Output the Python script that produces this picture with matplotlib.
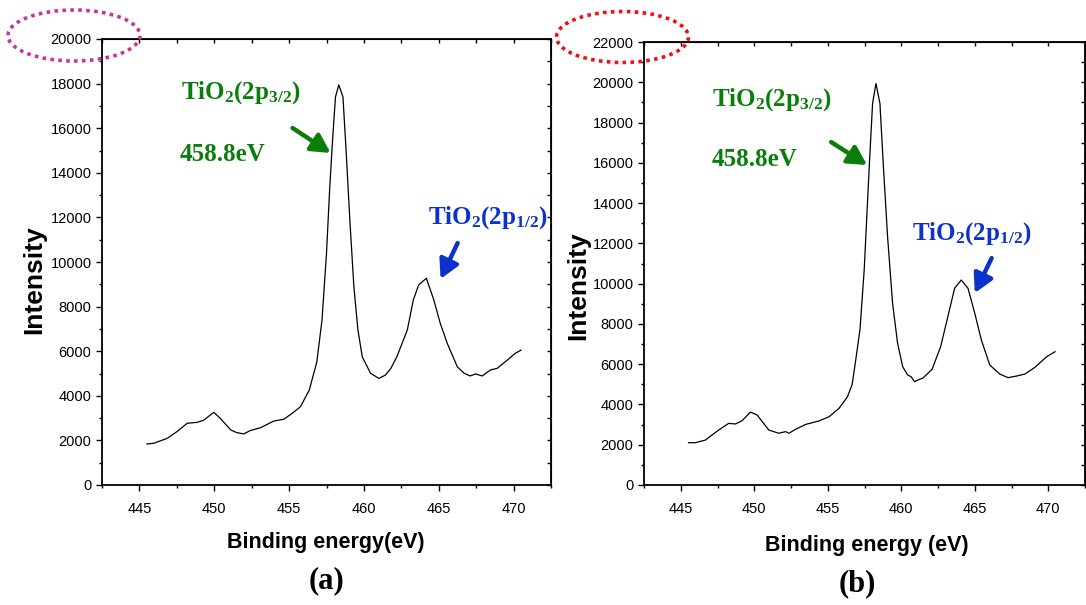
import numpy as np
import matplotlib
matplotlib.use('Agg')
import matplotlib.pyplot as plt
from matplotlib import font_manager
from matplotlib.patches import Ellipse
from matplotlib.ticker import MultipleLocator

# XPS Ti 2p spectra
be_a = [445.5, 445.95, 446.85, 447.5, 448.2, 448.86, 449.3, 449.97, 450.4, 451.1,
        451.5, 451.97, 452.4, 453.1, 453.98, 454.65, 455.2, 455.76, 456.35, 456.65,
        456.85, 457.2, 457.5, 457.72, 457.92, 458.1, 458.32, 458.6, 458.82, 459.06,
        459.33, 459.6, 459.89, 460.44, 461.0, 461.44, 461.8, 462.2, 462.9, 463.3,
        463.66, 464.17, 464.67, 465.1, 465.57, 466.24, 466.7, 467.1, 467.46, 467.9,
        468.46, 468.9, 469.58, 470.1, 470.5]
int_a = [1840, 1870, 2090, 2390, 2770, 2810, 2910, 3260, 2990, 2470,
         2350, 2290, 2440, 2570, 2870, 2950, 3210, 3510, 4260, 5010,
         5500, 7400, 10390, 13380, 15620, 17400, 17940, 17400, 14870, 11880,
         8890, 6950, 5750, 5010, 4780, 4930, 5230, 5750, 6950, 8300,
         8970, 9270, 8300, 7250, 6350, 5300, 5010, 4890, 4980, 4890,
         5160, 5230, 5600, 5900, 6050]

be_b = [445.53, 445.98, 446.67, 447.58, 448.26, 448.72, 449.17, 449.74, 450.19, 450.99,
        451.67, 452.13, 452.36, 452.8, 453.5, 454.4, 455.09, 455.77, 456.34, 456.66,
        456.87, 457.19, 457.48, 457.7, 457.87, 458.05, 458.28, 458.55, 458.8, 459.07,
        459.41, 459.75, 460.1, 460.44, 460.67, 460.9, 461.24, 461.46, 462.1, 462.68,
        463.17, 463.63, 464.08, 464.54, 465.0, 465.45, 466.02, 466.7, 467.27, 467.84,
        468.41, 469.09, 469.89, 470.46]
int_b = [2100, 2100, 2230, 2730, 3060, 3030, 3190, 3620, 3480, 2730,
         2570, 2650, 2570, 2760, 3010, 3180, 3390, 3810, 4380, 5000,
         6040, 7700, 10680, 13990, 16470, 18950, 19940, 18950, 15640, 12330,
         9020, 7040, 5870, 5460, 5380, 5130, 5250, 5300, 5750, 6870,
         8360, 9770, 10180, 9770, 8530, 7200, 5960, 5510, 5330, 5410,
         5510, 5840, 6370, 6620]

names = {f.name for f in font_manager.fontManager.ttflist}
narrow = 'Liberation Sans Narrow' if 'Liberation Sans Narrow' in names else 'Liberation Sans'

plt.rcParams['font.family'] = [narrow, 'DejaVu Sans']
plt.rcParams['mathtext.fontset'] = 'custom'
plt.rcParams['mathtext.rm'] = 'Liberation Serif:bold'
plt.rcParams['mathtext.it'] = 'Liberation Serif:bold'
plt.rcParams['mathtext.bf'] = 'Liberation Serif:bold'

W, H = 1086, 605
fig = plt.figure(figsize=(W / 100, H / 100), dpi=100)

GREEN = '#0b7d0b'
BLUE = '#0b33cc'
serif = dict(family='Liberation Serif', weight='bold')
arrow_style = '-|>,head_length=0.7,head_width=0.38'


def px_axes(x0, y0, x1, y1):
    return fig.add_axes([x0 / W, 1 - y1 / H, (x1 - x0) / W, (y1 - y0) / H])


def setup(ax, ymax, x, y, xlabel):
    ax.plot(x, y, color='black', lw=0.9)
    ax.set_xlim(442.5, 472.5)
    ax.set_ylim(0, ymax)
    ax.xaxis.set_major_locator(MultipleLocator(5))
    ax.xaxis.set_minor_locator(MultipleLocator(2.5))
    ax.yaxis.set_major_locator(MultipleLocator(2000))
    ax.yaxis.set_minor_locator(MultipleLocator(1000))
    ax.tick_params(which='major', direction='out', length=4.5, width=1.0,
                   labelsize=10.5, pad=3)
    ax.tick_params(which='minor', direction='out', length=2.5, width=1.0)
    ax.tick_params(axis='x', which='major', pad=8)
    for s in ax.spines.values():
        s.set_linewidth(1.3)
    # mirrored inward ticks on top/right, no labels
    top = ax.secondary_xaxis('top')
    top.xaxis.set_major_locator(MultipleLocator(5))
    top.xaxis.set_minor_locator(MultipleLocator(2.5))
    top.tick_params(which='both', direction='in', length=3, width=1.0, labeltop=False)
    right = ax.secondary_yaxis('right')
    right.yaxis.set_major_locator(MultipleLocator(2000))
    right.yaxis.set_minor_locator(MultipleLocator(1000))
    right.tick_params(which='both', direction='in', length=3, width=1.0, labelright=False)
    ax.set_ylabel('Intensity', family='Liberation Sans', weight='bold', fontsize=19)
    ax.set_xlabel(xlabel, family=narrow, weight='bold', fontsize=15.5)


def arrow(ax, head, tail, col):
    ax.annotate('', xy=head, xytext=tail,
                arrowprops=dict(arrowstyle=arrow_style, color=col, lw=3.2,
                                mutation_scale=16, shrinkA=0, shrinkB=0))


# panel (a)
ax1 = px_axes(102, 39, 551, 485)
setup(ax1, 20000, be_a, int_a, 'Binding energy(eV)')
ax1.yaxis.set_label_coords(-0.125, 0.46)
ax1.xaxis.set_label_coords(0.499, -0.105)
ax1.text(447.8, 17580, r'TiO$_2$(2p$_{3/2}$)', color=GREEN, fontsize=18, va='center', **serif)
ax1.text(447.67, 14800, '458.8eV', color=GREEN, fontsize=18, va='center', **serif)
arrow(ax1, (457.77, 14890), (455.23, 16010), GREEN)
ax1.text(464.25, 11970, r'TiO$_2$(2p$_{1/2}$)', color=BLUE, fontsize=18, va='center', **serif)
arrow(ax1, (465.12, 9240), (466.26, 10850), BLUE)

# panel (b)
ax2 = px_axes(644, 42, 1085, 485)
setup(ax2, 22000, be_b, int_b, 'Binding energy (eV)')
ax2.yaxis.set_label_coords(-0.122, 0.45)
ax2.xaxis.set_label_coords(0.505, -0.113)
ax2.text(447.1, 19120, r'TiO$_2$(2p$_{3/2}$)', color=GREEN, fontsize=18, va='center', **serif)
ax2.text(447.1, 16140, '458.8eV', color=GREEN, fontsize=18, va='center', **serif)
arrow(ax2, (457.68, 15890), (455.23, 17030), GREEN)
ax2.text(460.76, 12510, r'TiO$_2$(2p$_{1/2}$)', color=BLUE, fontsize=18, va='center', **serif)
arrow(ax2, (465.0, 9530), (466.15, 11270), BLUE)

# panel letters
fig.text(326 / W, 1 - 581 / H, '(a)', ha='center', va='center', fontsize=22, **serif)
fig.text(857 / W, 1 - 584 / H, '(b)', ha='center', va='center', fontsize=22, **serif)

# dotted ellipses around the top y tick labels
for cx, cy, col in [(74, 35.5, '#cc3399'), (622.5, 37, '#ee1111')]:
    e = Ellipse((cx / W, 1 - cy / H), 132 / W, 51 / H, transform=fig.transFigure,
                fill=False, edgecolor=col, lw=2.6, linestyle=(0, (1, 1.2)), clip_on=False)
    fig.add_artist(e)

fig.savefig('out.png', dpi=100)
